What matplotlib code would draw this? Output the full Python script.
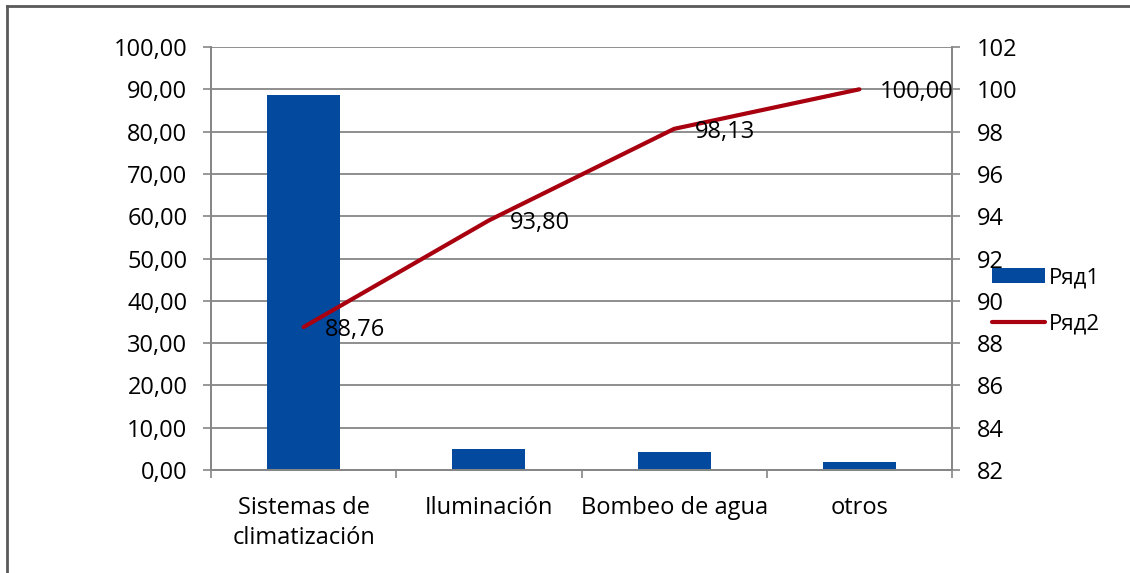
import matplotlib.pyplot as plt
from matplotlib.lines import Line2D

plt.rcParams['font.family'] = ['Open Sans', 'DejaVu Sans']

categorias = ['Sistemas de\nclimatización', 'Iluminación', 'Bombeo de agua', 'otros']
ryad1 = [88.76, 5.04, 4.33, 1.87]
ryad2 = [88.76, 93.80, 98.13, 100.00]
etiquetas = ['88,76', '93,80', '98,13', '100,00']

bar_color = '#034A9F'
line_color = '#A8000F'
grid_color = '#868686'
fs = 17

fig = plt.figure(figsize=(11.3, 5.73), dpi=100)
ax = fig.add_axes([211 / 1130, 1 - 470 / 573, 741 / 1130, 423 / 573])
ax2 = ax.twinx()

x = list(range(len(categorias)))
bars = ax.bar(x, ryad1, width=0.395, color=bar_color, zorder=2, label='Ряд1')
line, = ax2.plot(x, ryad2, color=line_color, lw=3, solid_capstyle='round', zorder=3, label='Ряд2')

ax.set_xlim(-0.5, 3.5)
ax.set_ylim(0, 100)
ax2.set_ylim(82, 102)

ax.set_yticks(range(0, 101, 10))
ax.set_yticklabels([f'{v},00' for v in range(0, 101, 10)])
ax2.set_yticks(range(82, 103, 2))

ax.yaxis.grid(True, color=grid_color, lw=1.3, zorder=0)
ax.set_axisbelow(True)

# category labels centred, tick marks on the boundaries
ax.set_xticks(x)
ax.set_xticklabels(categorias, linespacing=1.3)
ax.set_xticks([-0.5, 0.5, 1.5, 2.5, 3.5], minor=True)
ax.tick_params(axis='x', which='major', length=0, pad=19, labelsize=fs, colors='#000000')
ax.tick_params(axis='x', which='minor', length=6, width=1.2, color=grid_color)
ax.tick_params(axis='y', length=6, width=1.2, color=grid_color, pad=11, labelsize=fs)
ax2.tick_params(axis='y', length=6, width=1.2, color=grid_color, pad=12, labelsize=fs)

for a in (ax, ax2):
    for side in ('left', 'right', 'bottom', 'top'):
        a.spines[side].set_color(grid_color)
        a.spines[side].set_linewidth(1.3)
    a.spines['top'].set_visible(False)

# line value labels to the right of each point
for xi, yi, txt in zip(x, ryad2, etiquetas):
    ax2.annotate(txt, (xi, yi), xytext=(15, -2), textcoords='offset points',
                 ha='left', va='center', fontsize=fs, zorder=4)

fig.legend([bars, line], ['Ряд1', 'Ряд2'], loc='center left',
           bbox_to_anchor=(981 / 1130, 1 - 301 / 573), frameon=False,
           fontsize=16, handlelength=2.4, handleheight=0.7, labelspacing=1.15,
           handletextpad=0.15, borderpad=0)

# outer chart frame (left and top edges)
fig.add_artist(Line2D([7 / 1130, 7 / 1130], [0, 1 - 6 / 573], transform=fig.transFigure,
                      color='#5a5a5a', lw=2))
fig.add_artist(Line2D([7 / 1130, 1], [1 - 6 / 573, 1 - 6 / 573], transform=fig.transFigure,
                      color='#5a5a5a', lw=2))

fig.savefig('out.png', dpi=100, facecolor='white')
